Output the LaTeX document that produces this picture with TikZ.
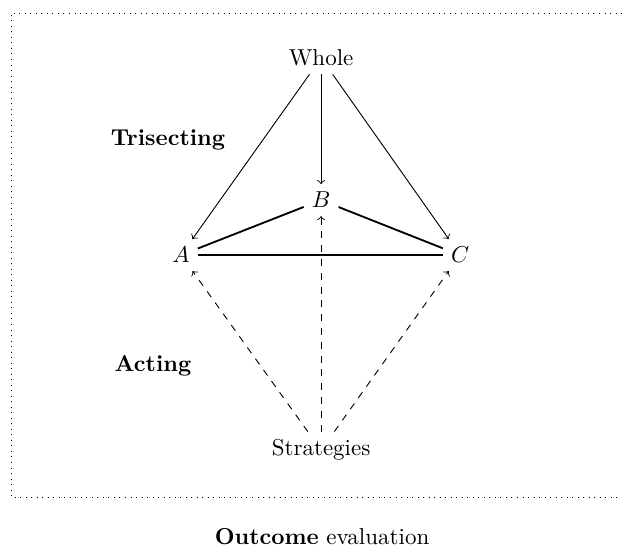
\documentclass[tikz,border=0pt]{standalone}
\usetikzlibrary{arrows}
\begin{document}
\begin{tikzpicture}[x=1pt,y=1pt,
  lbl/.style={inner sep=3.33pt},
  influence/.style={->},
  acts/.style={->,dashed},
  link/.style={thick}]
  \useasboundingbox (0,0) rectangle (270.4,-237.8);
  % frame around the diagram, running past the right edge
  \draw[dotted] (280,-5.65) -- (4.8,-5.65) -- (4.8,-216.1) -- (280,-216.1);

  \node[lbl] (whole) at (139.6,-25.2) {Whole};
  \node[lbl] (b) at (139.6,-87.0) {$B$};
  \node[lbl] (a) at (78.7,-110.9) {$A$};
  \node[lbl] (c) at (200.0,-110.9) {$C$};
  \node[lbl] (strat) at (139.6,-195.7) {Strategies};

  \node[lbl] (trisect) at (73.0,-60.9) {\textbf{Trisecting}};
  \node[lbl] (acting) at (66.5,-159.1) {\textbf{Acting}};
  \node[lbl] (caption) at (140.0,-233.2) {\textbf{Outcome} evaluation};

  \draw[influence] (whole) -- (a);
  \draw[influence] (whole) -- (b);
  \draw[influence] (whole) -- (c);

  \draw[link] (a) -- (b);
  \draw[link] (b) -- (c);
  \draw[link] (a) -- (c);

  \draw[acts] (strat) -- (a);
  \draw[acts] (strat) -- (b);
  \draw[acts] (strat) -- (c);
\end{tikzpicture}
\end{document}
